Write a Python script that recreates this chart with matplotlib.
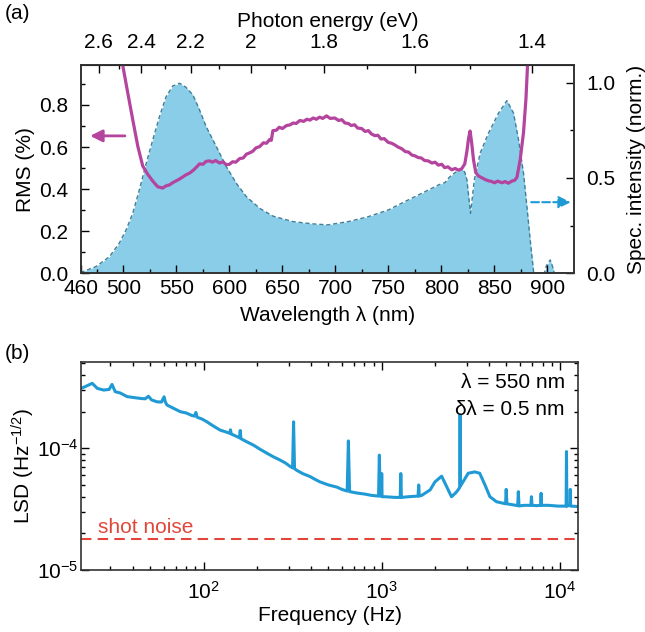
import numpy as np
import matplotlib
matplotlib.use("Agg")
import matplotlib.pyplot as plt
from matplotlib.ticker import MultipleLocator, FixedLocator, LogLocator, NullFormatter

plt.rcParams["font.family"] = ["Liberation Sans", "DejaVu Sans"]
plt.rcParams["mathtext.fontset"] = "custom"
plt.rcParams["mathtext.rm"] = "Liberation Sans"
plt.rcParams["mathtext.it"] = "Liberation Sans:italic"
plt.rcParams["font.size"] = 15

# (a) RMS noise vs wavelength (left axis, %)
rms_wl = [498, 499.3, 504, 508.8, 513.5, 518.2, 523, 527.7, 532.4, 537, 540, 543.4, 547, 550, 553, 556,
          559, 562.4, 566, 569, 571.8, 575, 578, 581.3, 584, 587, 590.7, 594, 597, 600, 603, 606, 609.6,
          613, 616, 619, 622, 625, 628.5, 632, 635, 638, 639.5, 641, 644.3, 647, 650, 653.8, 657, 660,
          663, 666.4, 670, 673, 676, 679, 682, 685, 688, 691.6, 695, 699.4, 703, 706, 709, 712, 715, 718,
          721, 724.7, 728, 731, 734, 737.2, 740, 743, 746, 749.8, 753, 756, 759, 762.5, 766, 769, 772,
          775, 778, 781, 784, 787.6, 791, 794, 797, 800.3, 803, 806, 809.7, 813, 816, 819, 822, 824,
          825.5, 827, 828.5, 830.2, 832.4, 835, 838, 841, 844, 847.5, 850, 853, 857, 860, 863, 866.4,
          869, 871.2, 874.3, 877.4, 879.7, 881.2, 882]
rms_val = [1.05, 0.99, 0.86, 0.73, 0.605, 0.51, 0.47, 0.438, 0.411, 0.405, 0.415, 0.42, 0.432, 0.44,
           0.448, 0.458, 0.468, 0.476, 0.49, 0.505, 0.52, 0.518, 0.532, 0.534, 0.528, 0.536, 0.524, 0.53,
           0.516, 0.518, 0.53, 0.528, 0.545, 0.548, 0.566, 0.572, 0.58, 0.596, 0.602, 0.62, 0.618, 0.636,
           0.632, 0.678, 0.68, 0.694, 0.688, 0.702, 0.705, 0.714, 0.712, 0.726, 0.722, 0.732, 0.728,
           0.738, 0.732, 0.742, 0.736, 0.748, 0.736, 0.738, 0.726, 0.73, 0.714, 0.712, 0.702, 0.706,
           0.69, 0.688, 0.674, 0.678, 0.662, 0.654, 0.656, 0.638, 0.64, 0.622, 0.618, 0.61, 0.6, 0.592,
           0.578, 0.576, 0.562, 0.558, 0.55, 0.548, 0.536, 0.534, 0.524, 0.528, 0.514, 0.518, 0.502,
           0.506, 0.492, 0.498, 0.49, 0.496, 0.52, 0.58, 0.64, 0.676, 0.62, 0.54, 0.478, 0.462, 0.454,
           0.446, 0.44, 0.436, 0.43, 0.438, 0.43, 0.436, 0.428, 0.438, 0.442, 0.456, 0.542, 0.67, 0.83,
           0.99, 1.05]

# (a) normalised spectrum (right axis)
spec_wl = [460, 461.5, 474, 486.8, 496, 502.5, 508.8, 515, 521.5, 527.7, 534, 540.3, 546.6, 553, 559,
           565.5, 571.8, 578, 587.6, 597, 606.5, 616, 628.5, 641, 660, 679, 693, 712, 731, 749.8, 768.7,
           784.5, 797, 800, 803.4, 806, 809.7, 819, 822, 824, 827.4, 831, 836.5, 844.3, 853.8, 861.7,
           868, 872.7, 877.4, 880.6, 883.7, 886.9, 888, 897, 899, 902.6, 904.5, 906.5, 912]
spec_val = [0.0, 0.008, 0.035, 0.087, 0.157, 0.227, 0.315, 0.437, 0.577, 0.70, 0.822, 0.927, 0.983,
            0.997, 0.976, 0.936, 0.857, 0.77, 0.665, 0.56, 0.472, 0.402, 0.341, 0.30, 0.271, 0.259,
            0.254, 0.271, 0.297, 0.332, 0.385, 0.428, 0.463, 0.47, 0.476, 0.495, 0.516, 0.551, 0.53,
            0.49, 0.315, 0.49, 0.63, 0.735, 0.84, 0.906, 0.84, 0.70, 0.525, 0.35, 0.175, 0.008, 0.0,
            0.0, 0.04, 0.07, 0.04, 0.0, 0.0]

energy_ticks = [2.6, 2.4, 2.2, 2.0, 1.8, 1.6, 1.4]
energy_labels = ["2.6", "2.4", "2.2", "2", "1.8", "1.6", "1.4"]
energy_minor = [2.5, 2.3, 2.1, 1.9, 1.7, 1.5]

# (b) linear spectral density vs frequency
lsd_f = [20.5, 21.5, 23.7, 25.3, 27.5, 29.5, 30.6, 31.9, 34, 37.2, 40, 44.2, 47, 49, 51, 54.8, 58, 60,
         61, 62.3, 67, 74, 80, 86, 89, 90.5, 92, 98, 104.5, 113, 124, 132, 140, 141.5, 143, 150, 159,
         160.6, 162, 175, 191, 208, 227, 247, 269, 287, 306, 316, 320, 324, 333, 360, 397, 423, 450,
         502, 560, 597, 640, 650, 660, 664, 720, 808, 880, 960, 970, 980, 995, 1000, 1005, 1050, 1187,
         1270, 1280, 1290, 1410, 1600, 1613, 1626, 1675, 1870, 1991, 2170, 2316, 2465, 2600, 2700,
         2745, 2755, 2765, 2861, 3060, 3330, 3550, 3800, 4050, 4410, 4960, 5000, 5045, 5800, 5850,
         5900, 6300, 6880, 6930, 6980, 7400, 7800, 7850, 7900, 8630, 9800, 10850, 10900, 10950,
         11400, 11450, 11500, 12410, 12700]
lsd_val = [3.11e-4, 3.2e-4, 3.42e-4, 3.11e-4, 3.01e-4, 3.05e-4, 3.35e-4, 2.92e-4, 2.85e-4, 2.66e-4,
           2.62e-4, 2.57e-4, 2.55e-4, 2.68e-4, 2.5e-4, 2.41e-4, 2.4e-4, 2.65e-4, 2.4e-4, 2.27e-4,
           2.15e-4, 2.0e-4, 1.95e-4, 1.86e-4, 1.84e-4, 1.97e-4, 1.8e-4, 1.74e-4, 1.65e-4, 1.53e-4,
           1.41e-4, 1.37e-4, 1.33e-4, 1.42e-4, 1.31e-4, 1.27e-4, 1.22e-4, 1.4e-4, 1.2e-4, 1.13e-4,
           1.06e-4, 9.8e-5, 9.1e-5, 8.5e-5, 8.0e-5, 7.6e-5, 7.1e-5, 6.9e-5, 1.65e-4, 6.8e-5, 6.6e-5,
           6.2e-5, 5.85e-5, 5.55e-5, 5.3e-5, 5.0e-5, 4.8e-5, 4.6e-5, 4.45e-5, 1.15e-4, 4.4e-5, 4.4e-5,
           4.3e-5, 4.2e-5, 4.1e-5, 4.05e-5, 8.8e-5, 4.05e-5, 4.05e-5, 6.2e-5, 4.0e-5, 4.0e-5, 3.95e-5,
           3.95e-5, 6.2e-5, 3.95e-5, 4.0e-5, 4.05e-5, 5.0e-5, 4.05e-5, 4.1e-5, 4.55e-5, 5.3e-5, 5.9e-5,
           4.84e-5, 4.0e-5, 4.3e-5, 4.6e-5, 4.8e-5, 1.88e-4, 4.9e-5, 5.3e-5, 6.24e-5, 6.4e-5, 6.24e-5,
           5.0e-5, 4.0e-5, 3.64e-5, 3.5e-5, 4.6e-5, 3.5e-5, 3.38e-5, 4.4e-5, 3.36e-5, 3.4e-5, 3.4e-5,
           4.0e-5, 3.4e-5, 3.38e-5, 3.4e-5, 4.27e-5, 3.4e-5, 3.4e-5, 3.35e-5, 3.35e-5, 9.4e-5, 3.35e-5,
           3.4e-5, 4.6e-5, 3.35e-5, 3.33e-5, 3.3e-5]
shot_noise = 1.8e-5

magenta = "#b4449e"
fill_blue = "#8acde8"
edge_blue = "#3f7f98"
lsd_blue = "#1f9ad5"
red = "#e0473a"

fig = plt.figure(figsize=(6.45, 6.32), dpi=100)
ax = fig.add_axes([0.1256, 0.5676, 0.7643, 0.3296])
ax2 = ax.twinx()
ax.set_zorder(ax2.get_zorder() + 1)
ax.patch.set_visible(False)

ax2.fill_between(spec_wl, spec_val, 0, color=fill_blue, lw=0)
ax2.plot(spec_wl, spec_val, color=edge_blue, lw=1, ls=(0, (3, 2)))
ax.plot(rms_wl, rms_val, color=magenta, lw=2.3)

ax.annotate("", xy=(466, 0.653), xytext=(504, 0.653),
            arrowprops=dict(arrowstyle="-|>", color=magenta, lw=2, mutation_scale=18))
ax2.annotate("", xy=(924.5, 0.373), xytext=(882, 0.373),
             arrowprops=dict(arrowstyle="-|>", color=lsd_blue, lw=1.5, ls="--", mutation_scale=18))

ax.set_xlim(460, 925)
ax.set_ylim(0, 0.99)
ax2.set_ylim(0, 1.093)
ax.set_xticks([460, 500, 550, 600, 650, 700, 750, 800, 850, 900])
ax.xaxis.set_minor_locator(FixedLocator(np.arange(475, 925, 25)))
ax.yaxis.set_major_locator(MultipleLocator(0.2))
ax.yaxis.set_minor_locator(MultipleLocator(0.1))
ax.yaxis.set_major_formatter(plt.FormatStrFormatter("%.1f"))
ax2.yaxis.set_major_locator(MultipleLocator(0.5))
ax2.yaxis.set_minor_locator(MultipleLocator(0.25))
ax2.yaxis.set_major_formatter(plt.FormatStrFormatter("%.1f"))

ax.tick_params(which="both", direction="in", top=False, right=False, width=1)
ax.tick_params(which="major", length=6)
ax.tick_params(which="minor", length=3)
ax.tick_params(axis="x", pad=4)
ax.tick_params(axis="y", pad=9)
ax2.tick_params(which="both", direction="in", width=1, pad=9)
ax2.tick_params(which="major", length=6)
ax2.tick_params(which="minor", length=3)

sec = ax.secondary_xaxis("top", functions=(lambda x: 1239.84 / np.asarray(x, float),
                                           lambda e: 1239.84 / np.asarray(e, float)))
sec.set_xticks(energy_ticks)
sec.set_xticklabels(energy_labels)
sec.xaxis.set_minor_locator(FixedLocator(energy_minor))
sec.tick_params(which="both", direction="in", width=1, pad=9)
sec.tick_params(which="major", length=6)
sec.tick_params(which="minor", length=3)
sec.set_xlabel("Photon energy (eV)", labelpad=5)

ax.set_xlabel("Wavelength λ (nm)")
ax.xaxis.set_label_coords(0.5, -0.155)
ax.set_ylabel("RMS (%)")
ax.yaxis.set_label_coords(-0.093, 0.5)
ax2.set_ylabel("Spec. intensity (norm.)")
ax2.yaxis.set_label_coords(1.107, 0.5)

for a in (ax, ax2):
    for s in a.spines.values():
        s.set_linewidth(1.2)
        s.set_color("#333333")

# (b)
bx = fig.add_axes([0.1256, 0.0981, 0.771, 0.3296])
bx.loglog(lsd_f, lsd_val, color=lsd_blue, lw=2.2)
bx.axhline(shot_noise, color=red, lw=1.5, ls=(0, (5, 3)))
bx.text(25.4, 2.0e-5, "shot noise", color=red, ha="left", va="baseline")
bx.text(0.973, 0.9, "λ = 550 nm", transform=bx.transAxes, ha="right", va="center")
bx.text(0.973, 0.77, "δλ = 0.5 nm", transform=bx.transAxes, ha="right", va="center")
bx.set_xlim(20.5, 12700)
bx.set_ylim(1e-5, 5.15e-4)
bx.yaxis.set_major_locator(LogLocator(base=10, numticks=10))
bx.yaxis.set_minor_locator(LogLocator(base=10, subs=np.arange(2, 10), numticks=10))
bx.yaxis.set_minor_formatter(NullFormatter())
bx.xaxis.set_minor_formatter(NullFormatter())
bx.tick_params(which="both", direction="in", top=True, right=True, width=1)
bx.tick_params(which="major", length=6)
bx.tick_params(which="minor", length=3)
bx.tick_params(axis="y", pad=2)
bx.tick_params(axis="x", pad=8)
bx.set_xlabel("Frequency (Hz)")
bx.xaxis.set_label_coords(0.5, -0.175)
bx.set_ylabel("LSD (Hz$^{\\mathregular{-1/2}}$)")
bx.yaxis.set_label_coords(-0.089, 0.5)
for s in bx.spines.values():
    s.set_linewidth(1.2)
    s.set_color("#333333")

fig.text(0.008, 1 - 4 / 632, "(a)", ha="left", va="top")
fig.text(0.008, 1 - 344 / 632, "(b)", ha="left", va="top")

fig.savefig("out.png", dpi=100)
